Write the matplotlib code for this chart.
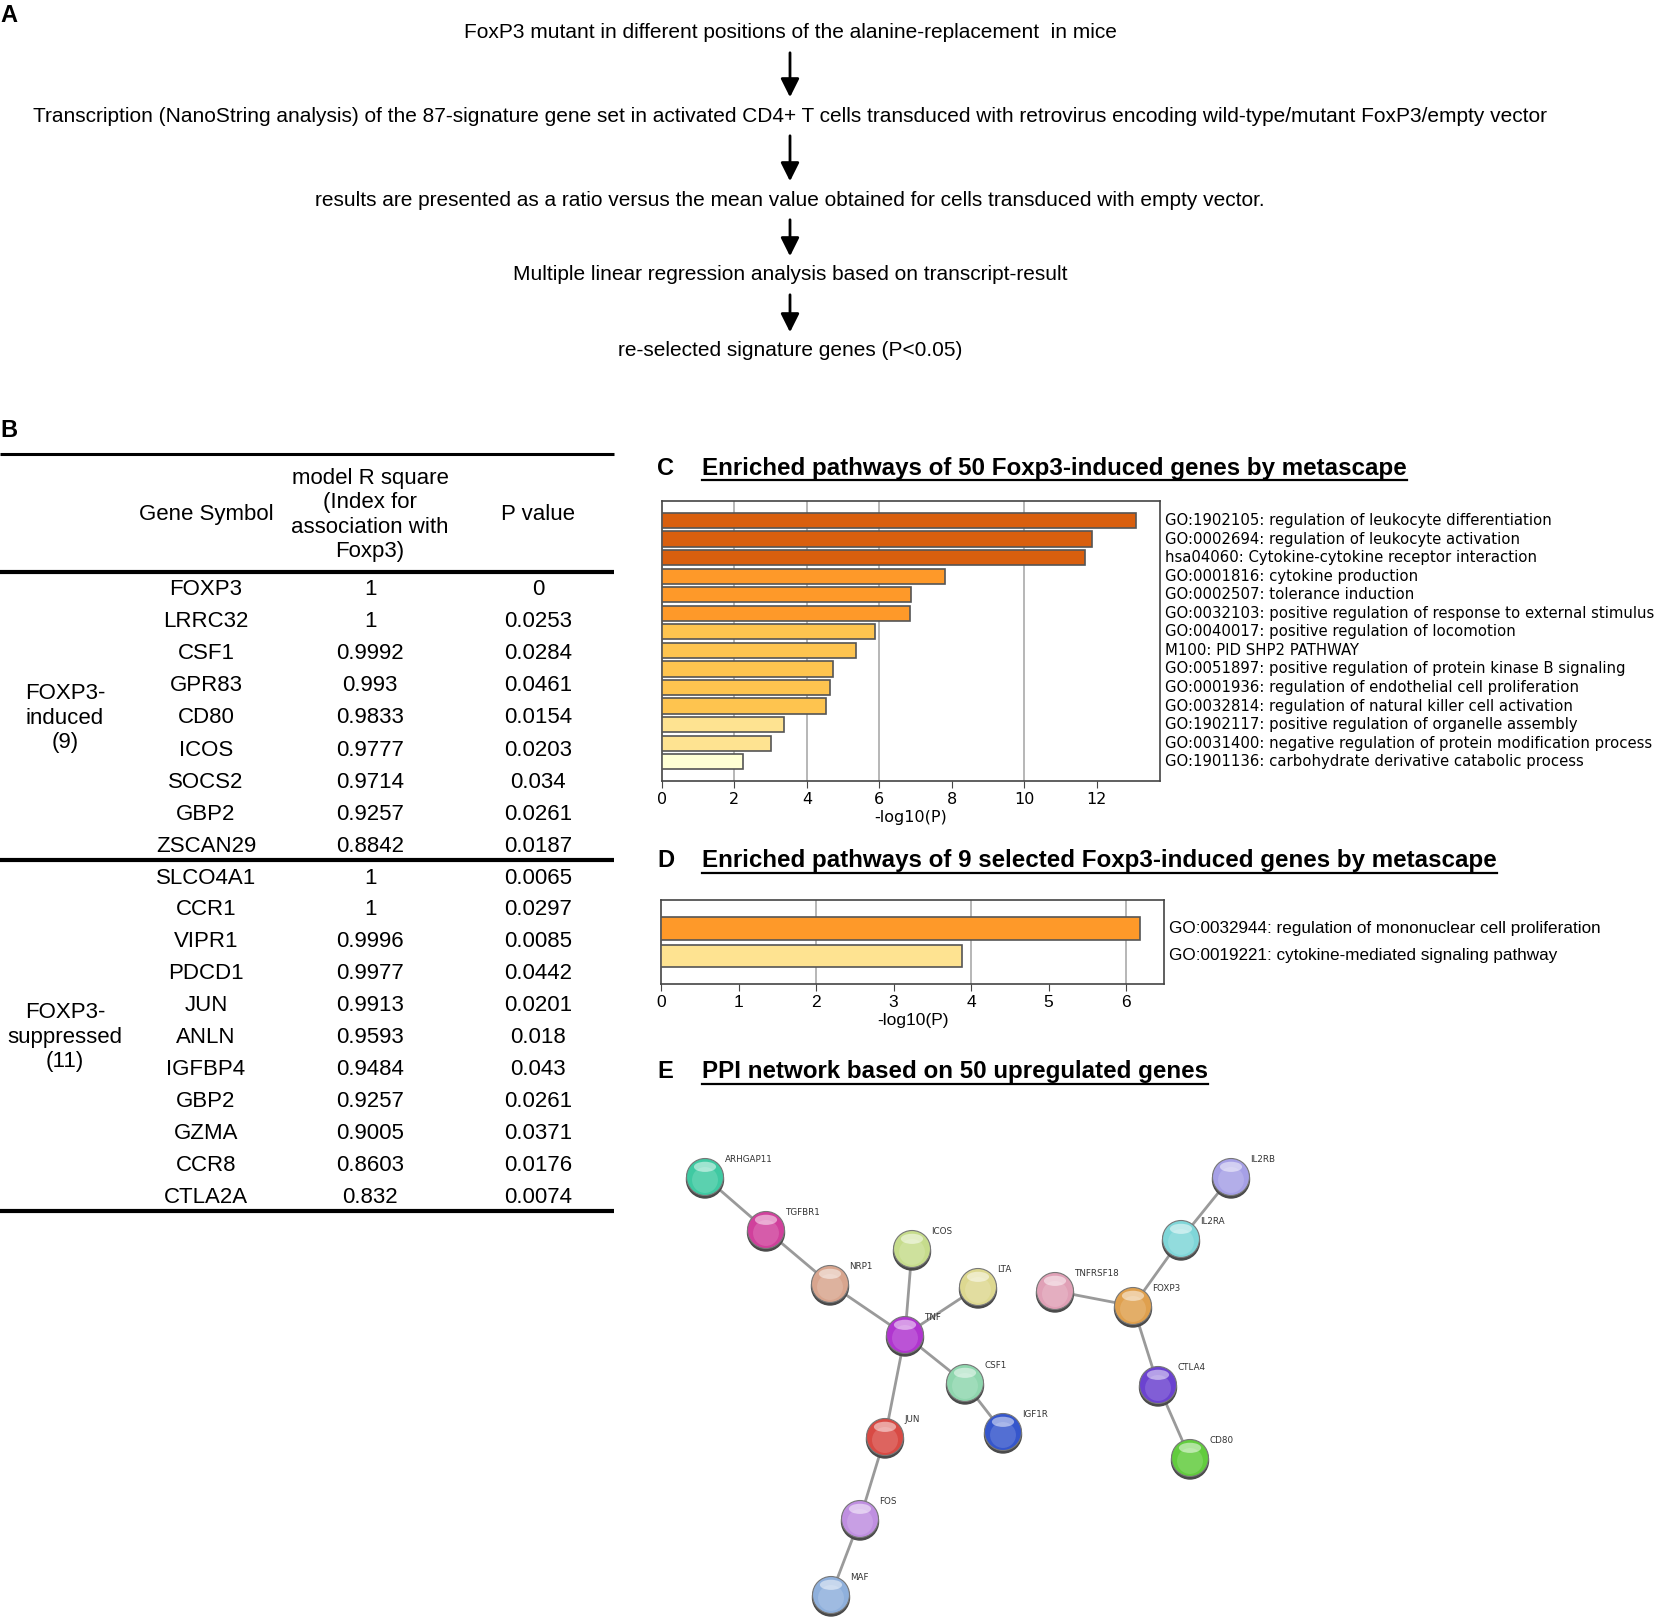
import numpy as np
import matplotlib
matplotlib.use("Agg")
import matplotlib.pyplot as plt
from matplotlib.patches import Circle, Ellipse

W, H = 1654, 1619

# ---- panel A: workflow steps
steps = [
    "FoxP3 mutant in different positions of the alanine-replacement  in mice",
    "Transcription (NanoString analysis) of the 87-signature gene set in activated CD4+ T cells "
    "transduced with retrovirus encoding wild-type/mutant FoxP3/empty vector",
    "results are presented as a ratio versus the mean value obtained for cells transduced with empty vector.",
    "Multiple linear regression analysis based on transcript-result",
    "re-selected signature genes (P<0.05)",
]

# ---- panel B: table
induced_genes = ["FOXP3", "LRRC32", "CSF1", "GPR83", "CD80", "ICOS", "SOCS2", "GBP2", "ZSCAN29"]
induced_r2 = ["1", "1", "0.9992", "0.993", "0.9833", "0.9777", "0.9714", "0.9257", "0.8842"]
induced_p = ["0", "0.0253", "0.0284", "0.0461", "0.0154", "0.0203", "0.034", "0.0261", "0.0187"]
suppressed_genes = ["SLCO4A1", "CCR1", "VIPR1", "PDCD1", "JUN", "ANLN", "IGFBP4", "GBP2", "GZMA", "CCR8", "CTLA2A"]
suppressed_r2 = ["1", "1", "0.9996", "0.9977", "0.9913", "0.9593", "0.9484", "0.9257", "0.9005", "0.8603", "0.832"]
suppressed_p = ["0.0065", "0.0297", "0.0085", "0.0442", "0.0201", "0.018", "0.043", "0.0261", "0.0371", "0.0176", "0.0074"]

# ---- panel C: enrichment of 50 genes
c_terms = [
    "GO:1902105: regulation of leukocyte differentiation",
    "GO:0002694: regulation of leukocyte activation",
    "hsa04060: Cytokine-cytokine receptor interaction",
    "GO:0001816: cytokine production",
    "GO:0002507: tolerance induction",
    "GO:0032103: positive regulation of response to external stimulus",
    "GO:0040017: positive regulation of locomotion",
    "M100: PID SHP2 PATHWAY",
    "GO:0051897: positive regulation of protein kinase B signaling",
    "GO:0001936: regulation of endothelial cell proliferation",
    "GO:0032814: regulation of natural killer cell activation",
    "GO:1902117: positive regulation of organelle assembly",
    "GO:0031400: negative regulation of protein modification process",
    "GO:1901136: carbohydrate derivative catabolic process",
]
c_values = [13.1, 11.86, 11.68, 7.8, 6.88, 6.86, 5.87, 5.37, 4.72, 4.63, 4.52, 3.38, 3.02, 2.24]
c_colors = ["#d95f0e"] * 3 + ["#fe9929"] * 3 + ["#fec44f"] * 5 + ["#fee391"] * 2 + ["#ffffd4"]

# ---- panel D: enrichment of 9 genes
d_terms = ["GO:0032944: regulation of mononuclear cell proliferation",
           "GO:0019221: cytokine-mediated signaling pathway"]
d_values = [6.18, 3.89]
d_colors = ["#fe9929", "#fee391"]

# ---- panel E: PPI network (layout positions in pixels)
node_names = ["ARHGAP11", "TGFBR1", "NRP1", "ICOS", "LTA", "TNF", "CSF1", "IGF1R", "JUN", "FOS", "MAF",
              "TNFRSF18", "FOXP3", "IL2RA", "IL2RB", "CTLA4", "CD80"]
node_x = [705, 766, 830, 912, 978, 905, 965, 1003, 885, 860, 831, 1055, 1133, 1181, 1231, 1158, 1190]
node_y = [1177, 1230, 1284, 1249, 1287, 1335, 1383, 1432, 1437, 1519, 1595, 1291, 1306, 1239, 1177, 1385, 1458]
node_colors = ["#3fc9a2", "#d0409c", "#d8a58e", "#c6dc8c", "#ddd890", "#b035cf", "#8fd6ae", "#3556cc",
               "#d84a44", "#bf8fe0", "#8fb0dc", "#e0a0b6", "#dfa04e", "#7fd6d8", "#a6a0e6", "#6b42d0", "#62cc3e"]
edges = [("ARHGAP11", "TGFBR1"), ("TGFBR1", "NRP1"), ("NRP1", "TNF"), ("ICOS", "TNF"), ("LTA", "TNF"),
         ("TNF", "CSF1"), ("CSF1", "IGF1R"), ("TNF", "JUN"), ("JUN", "FOS"), ("FOS", "MAF"),
         ("TNFRSF18", "FOXP3"), ("FOXP3", "IL2RA"), ("IL2RA", "IL2RB"), ("FOXP3", "CTLA4"), ("CTLA4", "CD80")]

ARIAL = ["Liberation Sans", "DejaVu Sans"]

fig = plt.figure(figsize=(W / 100, H / 100), dpi=100)
ov = fig.add_axes([0, 0, 1, 1])
ov.set_xlim(0, W)
ov.set_ylim(H, 0)
ov.axis("off")


def panel_letter(x, y, s):
    ov.text(x, y, s, fontsize=17, fontweight="bold", family=ARIAL, ha="left", va="center")


# ---------------- A
panel_letter(0, 16, "A")
step_y = [33, 116, 200, 275, 351]
for s, y in zip(steps, step_y):
    ov.text(790, y, s, fontsize=15, family=ARIAL, ha="center", va="center")
for y0, y1 in zip(step_y[:-1], step_y[1:]):
    ov.annotate("", xy=(790, y1 - 16), xytext=(790, y0 + 17),
                arrowprops=dict(arrowstyle="-|>", lw=2, color="black", mutation_scale=28))

# ---------------- B
panel_letter(0, 430, "B")
col_x = [65, 206, 370, 538]
for y, lw in [(454, 2.2), (572, 3), (860, 3), (1211, 3)]:
    ov.plot([0, 614], [y, y], color="black", lw=lw, solid_capstyle="butt")
ov.text(col_x[1], 514, "Gene Symbol", fontsize=16, family=ARIAL, ha="center", va="center")
ov.text(col_x[2], 515, "model R square\n(Index for\nassociation with\nFoxp3)", fontsize=16, family=ARIAL,
        ha="center", va="center", linespacing=1.2)
ov.text(col_x[3], 514, "P value", fontsize=16, family=ARIAL, ha="center", va="center")


def table_rows(genes, r2, pv, y0, step):
    for i, (g, r, p) in enumerate(zip(genes, r2, pv)):
        y = y0 + i * step
        for x, s in zip(col_x[1:], (g, r, p)):
            ov.text(x, y, s, fontsize=16, family=ARIAL, ha="center", va="center")


table_rows(induced_genes, induced_r2, induced_p, 589, 32.2)
table_rows(suppressed_genes, suppressed_r2, suppressed_p, 878, 31.9)
ov.text(col_x[0], 718, "FOXP3-\ninduced\n(%d)" % len(induced_genes), fontsize=16, family=ARIAL,
        ha="center", va="center", linespacing=1.2)
ov.text(col_x[0], 1037, "FOXP3-\nsuppressed\n(%d)" % len(suppressed_genes), fontsize=16, family=ARIAL,
        ha="center", va="center", linespacing=1.2)

# ---------------- C / D / E titles
titles = []
panel_letter(657, 468, "C")
titles.append(ov.text(702, 468, "Enriched pathways of 50 Foxp3-induced genes by metascape",
                      fontsize=17.4, fontweight="bold", family=ARIAL, ha="left", va="center"))
panel_letter(657, 860, "D")
titles.append(ov.text(702, 860, "Enriched pathways of 9 selected Foxp3-induced genes by metascape",
                      fontsize=17.4, fontweight="bold", family=ARIAL, ha="left", va="center"))
panel_letter(657, 1071, "E")
titles.append(ov.text(702, 1071, "PPI network based on 50 upregulated genes",
                      fontsize=17.4, fontweight="bold", family=ARIAL, ha="left", va="center"))


def px_axes(x0, y0, x1, y1):
    return fig.add_axes([x0 / W, 1 - y1 / H, (x1 - x0) / W, (y1 - y0) / H])


def bar_panel(ax, values, colors, terms, xmax, ticks, grid, fam, label_size, tick_size):
    pos = np.arange(len(values))
    ax.barh(pos, values, height=0.82, color=colors, edgecolor="#555555", linewidth=1.2, zorder=3)
    ax.set_xlim(0, xmax)
    ax.set_ylim(len(values) + 0.04, -1.05)
    ax.set_yticks([])
    ax.set_xticks(ticks)
    ax.set_xticklabels([str(t) for t in ticks], family=fam)
    for g in grid:
        ax.axvline(g, color="#aaaaaa", lw=1.2, zorder=1)
    for sp in ax.spines.values():
        sp.set_color("#444444")
        sp.set_linewidth(1.2)
    ax.tick_params(axis="x", direction="out", length=5, color="#444444", labelsize=tick_size, pad=3)
    ax.set_xlabel("-log10(P)", fontsize=tick_size, family=fam, labelpad=2)
    for i, t in enumerate(terms):
        ax.annotate(t, xy=(1.01, i), xycoords=("axes fraction", "data"), fontsize=label_size,
                    family=fam, ha="left", va="center", annotation_clip=False)


axC = px_axes(662, 501, 1160, 781)
bar_panel(axC, c_values, c_colors, c_terms, 13.75, list(range(0, 13, 2)), [2, 4, 6, 10],
          ["DejaVu Sans"], 10.7, 11.5)
axD = px_axes(661, 900, 1164, 984)
bar_panel(axD, d_values, d_colors, d_terms, 6.49, list(range(0, 7)), [2, 4, 6], ARIAL, 12.3, 12.5)

# ---------------- E network
idx = {n: i for i, n in enumerate(node_names)}
for a, b in edges:
    ov.plot([node_x[idx[a]], node_x[idx[b]]], [node_y[idx[a]], node_y[idx[b]]],
            color="#9a9a9a", lw=2, zorder=2)
r = 18.5
for n, x, y, c in zip(node_names, node_x, node_y, node_colors):
    ov.add_patch(Circle((x, y + 2.5), r, color="#4a4a4a", zorder=3))
    ov.add_patch(Circle((x, y), r, facecolor=c, edgecolor="#777777", lw=0.8, zorder=4))
    ov.add_patch(Circle((x, y + 3), r * 0.7, facecolor="white", alpha=0.15, lw=0, zorder=5))
    ov.add_patch(Ellipse((x, y - r * 0.55), r * 1.2, r * 0.55, facecolor="white", alpha=0.5, lw=0, zorder=6))
    ov.text(x + r + 1, y - r + 1, n, fontsize=6.3, color="#333333", ha="left", va="center", zorder=7)

# underline titles
fig.canvas.draw()
rend = fig.canvas.get_renderer()
for t in titles:
    bb = t.get_window_extent(rend)
    yline = H - bb.y0 + 1
    ov.plot([bb.x0, bb.x1], [yline, yline], color="black", lw=1.6)

fig.savefig("out.png", dpi=100)
